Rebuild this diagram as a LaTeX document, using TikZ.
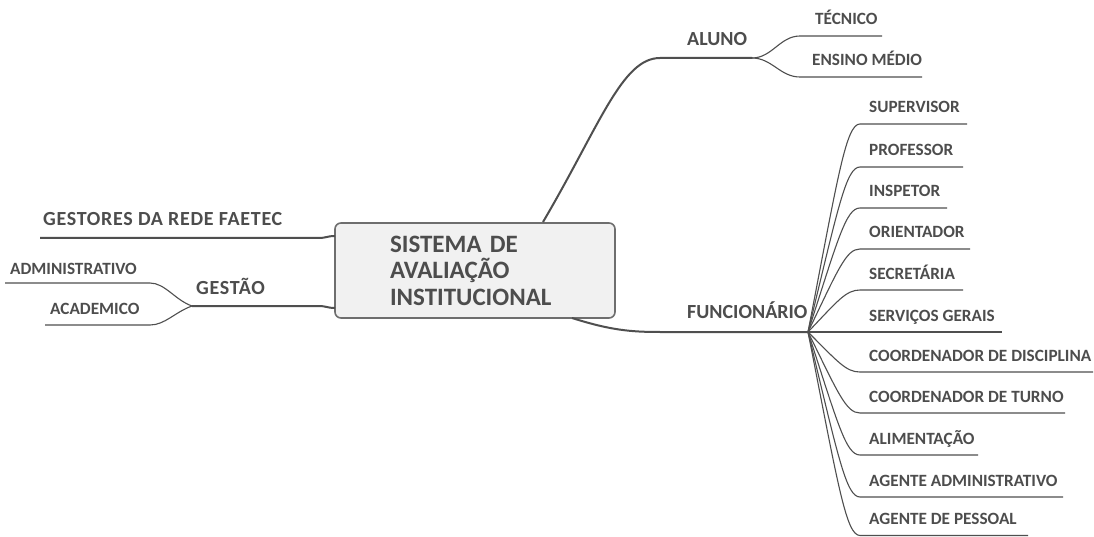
\documentclass[tikz,border=0pt]{standalone}
\usepackage{fontspec}
\setmainfont{Carlito}
\usetikzlibrary{calc}
\definecolor{txt}{HTML}{4D4D4D}
\definecolor{linec}{HTML}{4F4F4F}
\definecolor{boxfill}{HTML}{F1F1F1}
\definecolor{boxline}{HTML}{6E6E6E}
\begin{document}
\begin{tikzpicture}[x=1pt,y=-1pt,
  br/.style={draw=linec,line width=2pt},
  sub/.style={draw=linec,line width=1.1pt},
  lbl/.style={anchor=base west,inner sep=0pt,text=txt,font=\bfseries\fontsize{17.2}{19}\selectfont},
  mlbl/.style={lbl,font=\bfseries\fontsize{20}{22}\selectfont},
  wlbl/.style={lbl,font=\bfseries\fontsize{20}{22}\selectfont\addfontfeature{LetterSpace=3.5}},
  rootbox/.style={draw=boxline,fill=boxfill,line width=1.6pt,rounded corners=6pt,
    minimum width=280pt,minimum height=95pt,text width=170pt,align=left,inner sep=0pt,
    text=txt,font=\bfseries\fontsize{25}{26.5}\selectfont}]
\useasboundingbox (0,0) rectangle (1094,537);
\fill[white] (0,0) rectangle (1094,537);

% root
\node[rootbox] (root) at (475,270.5) {SISTEMA DE\\AVALIAÇÃO\\INSTITUCIONAL};
\coordinate (rg) at (335,236);
\coordinate (rg2) at (335,308);
\coordinate (ra) at (543,222);
\coordinate (rf) at (572,318);

% GESTORES
\coordinate (g1s) at (40,238);
\coordinate (g1e) at (318,238);
\node[wlbl] (gestores) at (43,226) {GESTORES DA REDE FAETEC};
\draw[br] (g1s) -- (g1e) .. controls (327,238) and (327,236) .. (rg);

% GESTAO
\coordinate (gh) at (192,306);
\coordinate (gm) at (318,306);
\node[wlbl] (gestao) at (196,294) {GESTÃO};
\draw[br] (gh) -- (gm) .. controls (327,306) and (327,308) .. (rg2);
\coordinate (a1s) at (5,283);
\coordinate (a1e) at (150,283);
\coordinate (a2s) at (45,325);
\coordinate (a2e) at (150,325);
\node[lbl] (admin) at (10,274) {ADMINISTRATIVO};
\node[lbl] (acad) at (50,314) {ACADEMICO};
\draw[sub] (a1s) -- (a1e) .. controls (165,283) and (175,300) .. (gh);
\draw[sub] (a2s) -- (a2e) .. controls (165,325) and (175,312) .. (gh);

% ALUNO
\coordinate (am) at (660,58);
\coordinate (ah) at (752,58);
\node[mlbl] (aluno) at (687,46) {ALUNO};
\draw[br] (ra) .. controls (600,125) and (622,58) .. (am) -- (ah);
\coordinate (t1s) at (800,36);
\coordinate (t1e) at (882,36);
\coordinate (t2s) at (800,77);
\coordinate (t2e) at (922,77);
\node[lbl] (tecnico) at (815,25) {TÉCNICO};
\node[lbl] (ensino) at (812,66) {ENSINO MÉDIO};
\draw[sub] (ah) .. controls (772,58) and (780,36) .. (t1s) -- (t1e);
\draw[sub] (ah) .. controls (772,58) and (780,77) .. (t2s) -- (t2e);

% FUNCIONARIO
\coordinate (fm) at (660,332);
\coordinate (hubF) at (808,332);
\node[mlbl] (func) at (687,318) {FUNCIONÁRIO};
\draw[br] (rf) .. controls (610,330) and (630,332) .. (fm) -- (hubF);

\foreach \lab/\yy/\ee [count=\i] in {SUPERVISOR/124/967, PROFESSOR/167/963, INSPETOR/208/947, ORIENTADOR/249/970, SECRETÁRIA/290/963, SERVIÇOS GERAIS/332/1002, COORDENADOR DE DISCIPLINA/372/1093, COORDENADOR DE TURNO/413/1065, ALIMENTAÇÃO/455/978, AGENTE ADMINISTRATIVO/497/1063, AGENTE DE PESSOAL/535.5/1028}{
  \coordinate (fs\i) at (860,\yy);
  \coordinate (fe\i) at (\ee,\yy);
  \node[lbl] (fl\i) at (869,\yy-11) {\lab};
  \draw[sub] (hubF) .. controls ($(hubF)!0.75!(848,\yy)$) and (846,\yy) .. (fs\i) -- (fe\i);
}
\end{tikzpicture}
\end{document}
